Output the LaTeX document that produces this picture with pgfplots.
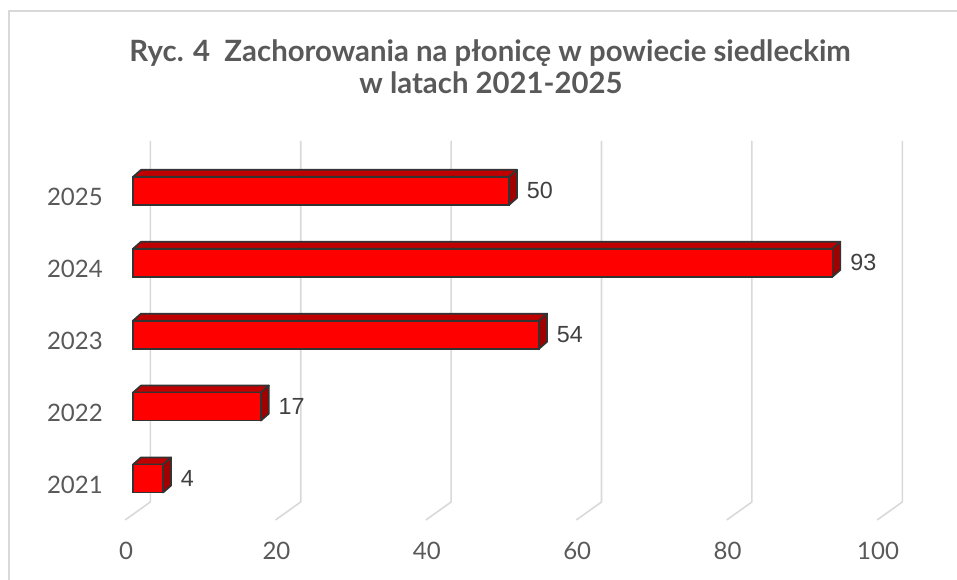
\documentclass[border=0pt]{standalone}
\usepackage{fontspec}
\setmainfont{Lato}
\newfontfamily\valfont{Liberation Sans}
\usepackage{pgfplots}
\pgfplotsset{compat=1.18}

\definecolor{txt}{HTML}{595959}
\definecolor{valtxt}{HTML}{404040}
\definecolor{frame}{HTML}{D9D9D9}
\definecolor{gridc}{HTML}{D9D9D9}
\definecolor{frontred}{HTML}{FF0000}
\definecolor{topred}{HTML}{C00000}
\definecolor{sidered}{HTML}{A00000}
\definecolor{edge}{HTML}{333333}

% 1 px of the reference = 0.75pt
\begin{document}
\begin{tikzpicture}
\path[use as bounding box] (0pt,0pt) rectangle (717.75pt,-435pt);
\draw[frame, line width=1.5pt] (6.4pt,-440pt) -- (6.4pt,-8.25pt) -- (725pt,-8.25pt);

\node[anchor=base, text=txt, font=\bfseries\fontsize{22}{25}\selectfont]
  at (367.5pt,-46.5pt) {Ryc. 4\ \ Zachorowania na płonicę w powiecie siedleckim};
\node[anchor=base, text=txt, font=\bfseries\fontsize{22}{25}\selectfont]
  at (368.25pt,-70pt) {w latach 2021-2025};

\begin{axis}[
    at={(88.5pt,-391.2pt)}, anchor=south west,
    scale only axis,
    width=597.84pt, height=293.89pt,
    xmin=-2, xmax=104,
    ymin=-0.6, ymax=4.85,
    enlargelimits=false,
    clip=false,
    no markers,
    axis line style={draw=none},
    tick style={draw=none},
    /pgf/number format/assume math mode=true,
    xtick={0,20,...,100},
    ytick={0,1,2,3,4},
    yticklabels={2021,2022,2023,2024,2025},
    ticklabel style={font=\fontsize{18}{20}\selectfont, text=txt},
    xticklabel style={anchor=center, inner sep=0pt, yshift=-22pt, xshift=-5.25pt},
    yticklabel style={anchor=east, inner sep=0pt, xshift=-11.25pt, yshift=-4.5pt},
    grid line/.style={gridc, line width=1.2pt},
    face/.style={draw=edge, line width=1.3pt, line join=round},
    top face/.style={face, fill=topred},
    side face/.style={face, fill=sidered},
]

% gridlines on the back wall and floor
\addplot[grid line] coordinates {(2.3,4.694) (2.3,-0.327) (-1.05,-0.577)};
\addplot[grid line] coordinates {(22.3,4.694) (22.3,-0.327) (18.95,-0.577)};
\addplot[grid line] coordinates {(42.3,4.694) (42.3,-0.327) (38.95,-0.577)};
\addplot[grid line] coordinates {(62.3,4.694) (62.3,-0.327) (58.95,-0.577)};
\addplot[grid line] coordinates {(82.3,4.694) (82.3,-0.327) (78.95,-0.577)};
\addplot[grid line] coordinates {(102.3,4.694) (102.3,-0.327) (98.95,-0.577)};

% top faces
\addplot[top face] coordinates {(0,0.195) (4,0.195) (5.06,0.292) (1.06,0.292)} --cycle;
\addplot[top face] coordinates {(0,1.195) (17,1.195) (18.06,1.292) (1.06,1.292)} --cycle;
\addplot[top face] coordinates {(0,2.195) (54,2.195) (55.06,2.292) (1.06,2.292)} --cycle;
\addplot[top face] coordinates {(0,3.195) (93,3.195) (94.06,3.292) (1.06,3.292)} --cycle;
\addplot[top face] coordinates {(0,4.195) (50,4.195) (51.06,4.292) (1.06,4.292)} --cycle;

% side faces
\addplot[side face] coordinates {(4,-0.195) (4,0.195) (5.06,0.292) (5.06,-0.098)} --cycle;
\addplot[side face] coordinates {(17,0.805) (17,1.195) (18.06,1.292) (18.06,0.902)} --cycle;
\addplot[side face] coordinates {(54,1.805) (54,2.195) (55.06,2.292) (55.06,1.902)} --cycle;
\addplot[side face] coordinates {(93,2.805) (93,3.195) (94.06,3.292) (94.06,2.902)} --cycle;
\addplot[side face] coordinates {(50,3.805) (50,4.195) (51.06,4.292) (51.06,3.902)} --cycle;

% front faces with values
\addplot[
    xbar, bar width=21pt, bar shift=0pt,
    fill=frontred, draw=edge, line width=1.3pt,
    nodes near coords,
    nodes near coords style={anchor=west, inner sep=0pt, xshift=12.75pt,
        text=valtxt, font=\valfont\fontsize{17.5}{20}\selectfont},
] coordinates {(4,0) (17,1) (54,2) (93,3) (50,4)};

\end{axis}
\end{tikzpicture}
\end{document}
